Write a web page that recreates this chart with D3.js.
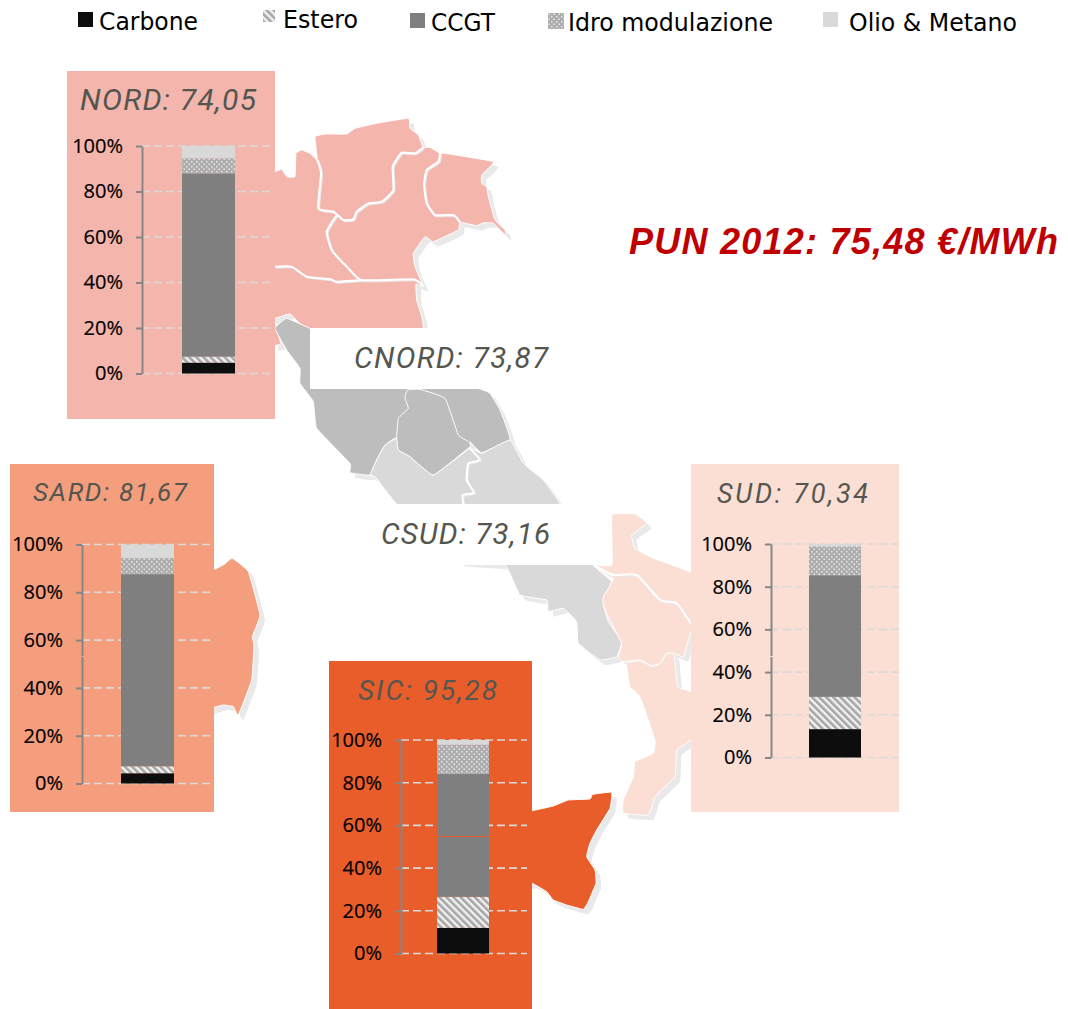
<!DOCTYPE html>
<html><head><meta charset="utf-8">
<script src="https://cdn.jsdelivr.net/npm/d3@7"></script>
<style>html,body{margin:0;padding:0;background:#fff}svg{display:block}</style></head>
<body><svg id="c" width="1068" height="1009"></svg>
<script>
// ---- data ----
const zones = ["NORD","SARD","SUD","SIC"];
const prices = ["74,05","81,67","70,34","95,28"];
const seriesNames = ["Carbone","Estero","CCGT","Idro modulazione","Olio & Metano"];
const carbone = [4.8,4.3,13.3,12.0];
const estero  = [2.6,2.9,15.1,14.6];
const ccgt    = [80.6,80.4,57.0,57.5];
const idro    = [6.6,6.7,13.5,13.6];
const olio    = [5.4,5.7,1.1,2.3];
const tickValues = [0,20,40,60,80,100];

// ---- layout ----
const panels = [
 {x:67,y:71,w:208,h:348,fill:"#f4b6ac",axisX:142,gridEnd:274,y0:373.5,y1:146,barX:182,barW:53,titleX:80,titleY:110,titleLen:176,titleSize:30},
 {x:10,y:464,w:204,h:348,fill:"#f49e7d",axisX:82,gridEnd:214,y0:783.5,y1:544.5,barX:121,barW:53,titleX:33,titleY:501,titleLen:154,titleSize:26},
 {x:691,y:464,w:208,h:348,fill:"#fbdfd5",axisX:771,gridEnd:899,y0:757.5,y1:544,barX:809,barW:52,titleX:717,titleY:503,titleLen:151,titleSize:27},
 {x:329,y:661,w:203,h:348,fill:"#e95d2a",axisX:401,gridEnd:527,y0:953.5,y1:740,barX:437,barW:52,titleX:358,titleY:700,titleLen:139,titleSize:28}
];
const legendLayout = [
 {sx:78,sy:12,ss:15,tx:99,ty:30,len:99},
 {sx:263,sy:10,ss:12,tx:283,ty:28,len:75},
 {sx:410,sy:13,ss:15,tx:431,ty:31,len:64},
 {sx:548,sy:13,ss:16,tx:568,ty:31,len:205},
 {sx:823,sy:12,ss:15,tx:849,ty:31,len:168}
];

// ---- map outlines (background artwork) ----
const z1=p=>[60+p[0]/3,60+p[1]/3], z2=p=>[270+p[0]/3,320+p[1]/3], z4=p=>[520+p[0]/3,500+p[1]/3], z5=p=>[320+p[0]/3,720+p[1]/3], z6=p=>[p[0]/3,530+p[1]/3];
const mapNord=[[600,340],[645,335],[665,328],[680,350],[705,350],[708,280],[725,270],[750,280],[772,300],[765,230],[800,222],[860,222],[885,205],[950,190],[1045,175],[1050,205],[1075,225],[1090,262],[1110,262],[1140,280],[1155,280],[1300,305],[1265,345],[1265,370],[1280,380],[1285,410],[1305,480],[1335,510],[1338,527],[1300,490],[1270,488],[1250,497],[1200,487],[1195,510],[1120,545],[1095,530],[1060,580],[1065,620],[1090,680],[1068,672],[1070,720],[1085,810],[750,810],[690,762],[645,775],[600,775]].map(z1);
const mapNordSliver=[[640,770],[662,850],[640,855]].map(z1);
const nordBorders=[
 [[772,300],[783,340],[775,445],[820,455],[850,480],[880,478],[890,455],[925,430],[965,425],[1000,390],[998,320],[1025,278],[1065,280],[1090,262]],
 [[1140,280],[1135,305],[1100,330],[1092,375],[1100,430],[1125,465],[1180,465],[1200,487]],
 [[830,465],[800,515],[815,570],[860,620],[905,660],[1060,658],[1090,680]],
 [[645,620],[695,620],[740,650],[810,657],[830,665],[905,660]]
].map(l=>l.map(z1));
const mapCnord=[[15,25],[50,-5],[120,25],[300,100],[630,207],[660,220],[690,270],[720,358],[635,398],[600,365],[600,380],[490,465],[420,410],[385,390],[380,352],[345,375],[320,420],[300,465],[240,458],[240,430],[140,325],[130,245],[90,190],[90,145],[50,90]].map(z2);
const mapUmbria=[[412,210],[405,235],[415,265],[385,295],[380,350],[385,390],[420,410],[490,465],[600,380],[595,365],[565,345],[525,235],[450,208]].map(z2);
const mapCsud=[[315,470],[300,465],[320,420],[345,375],[380,355],[385,390],[420,410],[490,465],[600,385],[635,400],[720,360],[760,430],[820,480],[870,550],[970,735],[1025,785],[1000,850],[1015,905],[1055,965],[1040,1010],[990,1020],[925,970],[920,905],[880,865],[835,875],[830,840],[750,825],[705,735],[560,720],[380,552]].map(z2);
const csudBorder=[[600,385],[630,420],[595,430],[590,480],[612,518],[578,525],[580,552]].map(z2);
const mapSud1=[[276,45],[345,42],[380,70],[335,105],[345,145],[400,175],[513,218],[560,300],[513,395],[490,470],[465,460],[440,460],[420,490],[395,497],[360,480],[310,485],[295,470],[305,430],[265,350],[250,315],[250,290],[280,235],[225,195],[276,195]].map(z4);
const mapSud2=[[320,490],[360,482],[395,499],[420,492],[440,462],[462,462],[473,560],[513,575],[560,650],[513,720],[470,750],[465,830],[405,890],[385,945],[310,940],[310,900],[340,830],[345,785],[400,760],[405,720],[360,590],[330,560]].map(z4);
const sudBorder=[[220,195],[280,225],[350,225],[420,300],[470,310],[513,372]].map(z4);
const mapSic=[[600,272],[636,272],[700,258],[745,240],[810,237],[818,223],[875,217],[870,265],[830,330],[810,370],[800,410],[825,450],[828,490],[805,545],[790,568],[740,555],[700,540],[680,515],[636,490],[600,490]].map(z5);
const mapSard=[[600,125],[642,118],[670,105],[697,85],[745,125],[780,255],[757,320],[762,345],[755,450],[715,555],[700,530],[670,525],[642,532],[600,535]].map(z6);

const svg=d3.select("#c");
const defs=svg.append("defs");
// hatch pattern
const h=defs.append("pattern").attr("id","hatch").attr("patternUnits","userSpaceOnUse").attr("width",5).attr("height",5).attr("patternTransform","rotate(-45)");
h.append("rect").attr("width",5).attr("height",5).attr("fill","#f2f2f2");
h.append("rect").attr("width",2.6).attr("height",5).attr("fill","#a6a6a6");
// dotted pattern
const dp=defs.append("pattern").attr("id","dots").attr("patternUnits","userSpaceOnUse").attr("width",5).attr("height",5);
dp.append("rect").attr("width",5).attr("height",5).attr("fill","#adadad");
dp.append("rect").attr("x",1).attr("y",1).attr("width",1.5).attr("height",1.5).attr("fill","#e8e8e8");
dp.append("rect").attr("x",3.5).attr("y",3.5).attr("width",1.5).attr("height",1.5).attr("fill","#e8e8e8");

const fills=["#0d0d0d","url(#hatch)","#7f7f7f","url(#dots)","#d9d9d9"];
const curve=d3.line().curve(d3.curveCardinal.tension(0.55));
const closed=d3.line().curve(d3.curveCardinalClosed.tension(0.7));

// ---- map ----
const shapes=[
 {p:mapNord,fill:"#f4b6ac"},{p:mapNordSliver,fill:"#f4b6ac"},
 {p:mapCnord,fill:"#bdbdbd"},{p:mapCsud,fill:"#d9d9d9"},{p:mapUmbria,fill:"#bdbdbd"},
 {p:mapSud1,fill:"#fbdfd5"},{p:mapSud2,fill:"#fbdfd5"},
 {p:mapSic,fill:"#e95d2a"},{p:mapSard,fill:"#f49e7d"}
];
const map=svg.append("g");
map.append("g").attr("transform","translate(5,5)").selectAll("path").data(shapes).join("path")
  .attr("d",d=>closed(d.p)).attr("fill","#e9e9e9");
map.append("g").selectAll("path").data(shapes).join("path")
  .attr("d",d=>closed(d.p)).attr("fill",d=>d.fill).attr("stroke","#fff").attr("stroke-width",1);
const borders=[...nordBorders,csudBorder,sudBorder];
map.append("g").selectAll("path").data(borders).join("path").attr("d",curve)
  .attr("transform","translate(1,1)").attr("fill","none").attr("stroke","#e9e9e9").attr("stroke-width",2);
map.append("g").selectAll("path").data(borders).join("path").attr("d",curve)
  .attr("fill","none").attr("stroke","#fff").attr("stroke-width",2);

// white label boxes
const labelFont="'Roboto',sans-serif";
[{x:310,y:328,w:210,h:61},{x:360,y:504,w:252,h:61}].forEach(b=>
  svg.append("rect").attr("x",b.x).attr("y",b.y).attr("width",b.w).attr("height",b.h).attr("fill","#fff"));
const sideLabels=[{t:"CNORD: 73,87",x:354,y:368,len:194},{t:"CSUD: 73,16",x:381,y:544,len:169}];
svg.selectAll("text.side").data(sideLabels).join("text").attr("class","side")
  .attr("x",d=>d.x).attr("y",d=>d.y).text(d=>d.t)
  .attr("font-family",labelFont).attr("font-style","italic").attr("font-size",29.5)
  .attr("fill","#555650").attr("textLength",d=>d.len).attr("lengthAdjust","spacing");

// ---- panels ----
const stack=d3.stack().keys(d3.range(5))(zones.map((z,i)=>[carbone[i],estero[i],ccgt[i],idro[i],olio[i]]));
panels.forEach((P,i)=>{
  const g=svg.append("g");
  g.append("rect").attr("x",P.x).attr("y",P.y).attr("width",P.w).attr("height",P.h).attr("fill",P.fill);
  const y=d3.scaleLinear().domain([0,100]).range([P.y0,P.y1]);
  // grid
  g.selectAll("line.grid").data(tickValues).join("line").attr("class","grid")
    .attr("x1",P.axisX).attr("x2",P.gridEnd).attr("y1",d=>y(d)).attr("y2",d=>y(d))
    .attr("stroke","#d9d9d9").attr("stroke-width",1.6).attr("stroke-dasharray","8 4");
  // axis
  const ax=g.append("g").attr("transform",`translate(${P.axisX},0)`)
    .call(d3.axisLeft(y).tickValues(tickValues).tickFormat(d=>d+"%").tickSize(6).tickSizeOuter(0).tickPadding(13));
  ax.selectAll(".domain,line").attr("stroke","#868686").attr("stroke-width",2);
  ax.selectAll("text").attr("font-family","'Open Sans',sans-serif").attr("font-size",20).attr("fill","#000").attr("stroke","#000").attr("stroke-width",0.2);
  // bars
  g.selectAll("rect.seg").data(stack.map((s,k)=>({k,v:s[i]}))).join("rect").attr("class","seg")
    .attr("x",P.barX).attr("width",P.barW)
    .attr("y",d=>y(d.v[1])).attr("height",d=>y(d.v[0])-y(d.v[1]))
    .attr("fill",d=>fills[d.k]);
  // title
  g.append("text").attr("x",P.titleX).attr("y",P.titleY).text(zones[i]+": "+prices[i])
   .attr("font-family",labelFont).attr("font-style","italic").attr("font-size",P.titleSize)
   .attr("fill","#555650").attr("textLength",P.titleLen).attr("lengthAdjust","spacing");
});
// image-slice seams
const seams=[{x:80,y:656,w:4,h:1,f:"#f49e7d"},{x:769,y:656,w:4,h:1,f:"#fbdfd5"},{x:437,y:836,w:52,h:1,f:"#e95d2a"}];
seams.forEach(s=>svg.append("rect").attr("x",s.x).attr("y",s.y).attr("width",s.w).attr("height",s.h).attr("fill",s.f));

// ---- legend ----
const lg=svg.append("g");
lg.selectAll("rect").data(legendLayout).join("rect")
  .attr("x",d=>d.sx).attr("y",d=>d.sy).attr("width",d=>d.ss).attr("height",d=>d.ss)
  .attr("fill",(d,i)=>fills[i]);
lg.selectAll("text").data(legendLayout).join("text")
  .attr("x",d=>d.tx).attr("y",d=>d.ty).text((d,i)=>seriesNames[i])
  .attr("font-family","'DejaVu Sans',sans-serif").attr("font-size",25).attr("fill","#000")
  .attr("textLength",d=>d.len).attr("lengthAdjust","spacingAndGlyphs");

// ---- headline ----
svg.append("text").attr("x",629).attr("y",254).text("PUN 2012: 75,48 €/MWh")
  .attr("font-family","'Liberation Sans',sans-serif").attr("font-style","italic").attr("font-weight",700)
  .attr("font-size",36).attr("fill","#c00000").attr("textLength",429).attr("lengthAdjust","spacing");
</script></body></html>
